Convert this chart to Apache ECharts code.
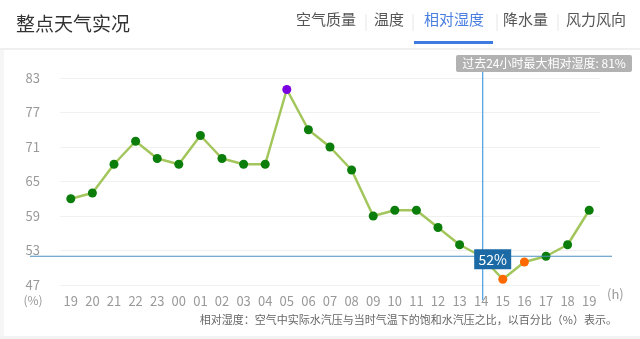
<!DOCTYPE html>
<html><head><meta charset="utf-8">
<script src="https://cdn.jsdelivr.net/npm/echarts@6/dist/echarts.min.js"></script>
<style>html,body{margin:0;padding:0;background:#fff}#c{width:640px;height:339px}</style>
</head><body><div id="c"></div>
<script>
var hours = ['19','20','21','22','23','00','01','02','03','04','05','06','07','08','09','10','11','12','13','14','15','16','17','18','19'];
var humidity = [62,63,68,72,69,68,73,69,68,68,81,74,71,67,59,60,60,57,54,52,48,51,52,54,60];
var yTicks = [47,53,59,65,71,77,83];
var tabs = ['空气质量','温度','相对湿度','降水量','风力风向'];
var activeTab = '相对湿度';
var currentIndex = 19;
var title = '整点天气实况';
var note = '相对湿度：空气中实际水汽压与当时气温下的饱和水汽压之比，以百分比（%）表示。';

var FONT = '"Noto Sans CJK SC","Noto Sans",sans-serif';
var maxVal = Math.max.apply(null, humidity);
var chart = echarts.init(document.getElementById('c'), null, {renderer:'canvas'});

var option = {
  animation:false,
  backgroundColor:'#fff',
  textStyle:{fontFamily:FONT},
  grid:{left:60,right:40,top:78,bottom:54},
  xAxis:{
    type:'category', data:hours, boundaryGap:true,
    axisLine:{show:false}, axisTick:{show:false},
    axisLabel:{color:'#999',fontSize:13,margin:10,fontFamily:FONT},
    name:'(h)', nameLocation:'end', nameGap:7,
    nameTextStyle:{color:'#999',fontSize:13,verticalAlign:'top',padding:[3,0,0,0],fontFamily:FONT}
  },
  yAxis:{
    type:'value', min:yTicks[0], max:yTicks[yTicks.length-1], interval:yTicks[1]-yTicks[0],
    axisLine:{show:false}, axisTick:{show:false},
    axisLabel:{color:'#999',fontSize:13,margin:20,fontFamily:FONT},
    splitLine:{lineStyle:{color:'#f0f0f0',width:1}}
  },
  series:[{
    type:'line', data:humidity, symbol:'circle', symbolSize:9,
    lineStyle:{color:'#a3c65c',width:2.5},
    itemStyle:{color:function(p){
      if(p.value===maxVal) return '#7a00e0';
      if(p.value<52) return '#ff6a00';
      return '#0a7d0a';
    }},
    z:3
  }]
};
chart.setOption(option);

var p = chart.convertToPixel({seriesIndex:0},[currentIndex, humidity[currentIndex]]);
var tabXs = [296,374,424,503,566];
var g = [];
g.push({type:'text',left:16,top:14,style:{text:title,fontSize:19,fill:'#333',fontFamily:FONT}});
tabs.forEach(function(t,i){
  g.push({type:'text',left:tabXs[i],top:12,style:{text:t,fontSize:15,fill:t===activeTab?'#4a7fe0':'#555',fontFamily:FONT}});
});
[366,413,497,558].forEach(function(x){
  g.push({type:'line',shape:{x1:x,y1:14,x2:x,y2:31},style:{stroke:'#e6e6e6',lineWidth:1}});
});
g.push({type:'rect',shape:{x:414,y:41,width:79,height:3},style:{fill:'#3d7be0'}});
g.push({type:'rect',shape:{x:0,y:48,width:640,height:2},style:{fill:'#efefef'}});
g.push({type:'rect',shape:{x:0,y:50,width:4,height:289},style:{fill:'#f6f6f6'}});
g.push({type:'rect',shape:{x:0,y:336,width:640,height:3},style:{fill:'#f3f3f3'}});
g.push({type:'rect',shape:{x:456,y:55,width:176,height:17,r:2},style:{fill:'#b2b2b2'},z:10});
g.push({type:'text',x:544,y:63.5,style:{text:'过去24小时最大相对湿度: '+maxVal+'%',fontSize:12,fill:'#fff',align:'center',verticalAlign:'middle',fontFamily:FONT},z:11});
g.push({type:'line',shape:{x1:p[0]+1.5,y1:72,x2:p[0]+1.5,y2:300},style:{stroke:'#4a9ee0',lineWidth:1.2},z:5});
g.push({type:'line',shape:{x1:30,y1:p[1],x2:612,y2:p[1]},style:{stroke:'#4a8fbf',lineWidth:1.2},z:5});
g.push({type:'rect',shape:{x:p[0]-7,y:p[1]-7,width:37,height:20},style:{fill:'#1b6aa5'},z:12});
g.push({type:'text',x:p[0]+11.5,y:p[1]+3,style:{text:humidity[currentIndex]+'%',fontSize:14,fill:'#fff',align:'center',verticalAlign:'middle',fontFamily:FONT},z:13});
g.push({type:'text',x:33,y:300,style:{text:'(%)',fontSize:12,fill:'#999',align:'center',verticalAlign:'middle',fontFamily:FONT}});
g.push({type:'text',x:617,y:320,style:{text:note,fontSize:11,fill:'#666',align:'right',verticalAlign:'middle',fontFamily:FONT}});
chart.setOption({graphic:g});
</script></body></html>
